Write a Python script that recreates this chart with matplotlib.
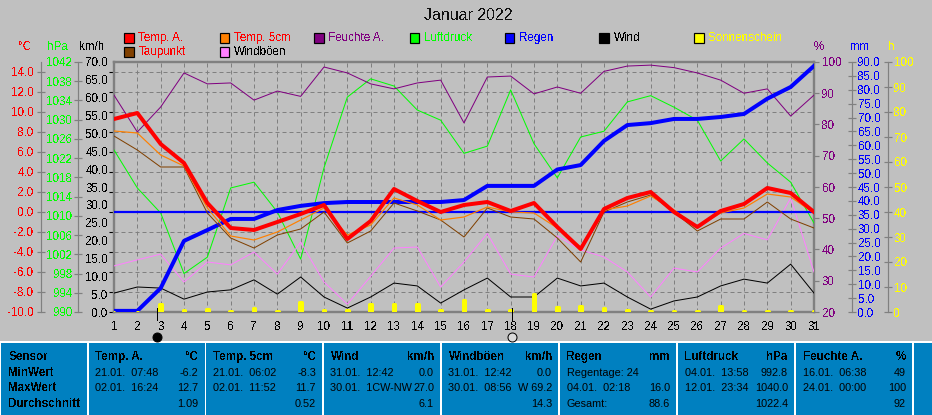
import matplotlib
matplotlib.use('Agg')
import matplotlib.pyplot as plt
from matplotlib.patches import Rectangle

plt.rcParams['font.family'] = ['Liberation Sans', 'DejaVu Sans']
plt.rcParams['text.antialiased'] = False

days = list(range(1, 32))
temp_a = [9.3, 9.9, 6.8, 4.9, 0.9, -1.6, -1.8, -1.0, -0.2, 0.7, -2.7, -0.9, 2.3, 1.1, 0.0, 0.7,
          1.0, 0.1, 0.9, -1.5, -3.7, 0.3, 1.4, 2.0, 0.0, -1.5, 0.1, 0.8, 2.4, 1.9, 0.0]
temp_5cm = [8.1, 7.9, 5.7, 4.6, 0.4, -2.4, -2.8, -2.0, -0.8, 0.4, -2.3, -1.3, 1.4, 0.7, -0.8, -0.5,
            0.5, 0.0, -0.1, -1.6, -3.5, 0.2, 0.6, 1.6, 0.2, -1.5, -0.1, 0.4, 1.8, 1.5, -0.1]
taupunkt = [7.6, 6.2, 4.5, 4.5, -0.1, -2.6, -3.6, -2.3, -1.7, 0.0, -3.1, -1.9, 0.9, 0.1, -0.8, -2.5,
            0.4, -0.5, -0.7, -2.6, -5.0, 0.0, 1.0, 1.7, 0.0, -1.9, -0.7, -0.7, 1.0, -0.7, -1.6]
feuchte = [89.4, 77.6, 85.6, 96.5, 93.0, 93.3, 87.8, 90.7, 89.0, 98.4, 96.5, 93.0, 91.4, 93.3, 94.2, 80.5,
           95.2, 95.5, 89.8, 92.0, 90.0, 97.0, 98.7, 99.0, 98.2, 96.5, 94.2, 90.0, 91.4, 82.7, 89.4]
luftdruck = [1023.7, 1015.8, 1010.6, 998.0, 1001.4, 1015.8, 1017.0, 1010.8, 1001.0, 1020.0, 1034.7, 1038.5,
             1037.0, 1032.0, 1029.9, 1023.0, 1024.5, 1036.2, 1025.0, 1017.9, 1026.4, 1027.6, 1033.7, 1035.0,
             1032.6, 1029.9, 1021.4, 1026.0, 1021.0, 1017.0, 1008.5]
regen = [0.4, 0.4, 8.6, 25.6, 29.5, 33.5, 33.5, 36.7, 38.2, 39.2, 39.6, 39.6, 39.6, 39.6, 39.6, 40.3,
         45.4, 45.4, 45.4, 51.3, 52.9, 61.6, 67.3, 68.0, 69.5, 69.5, 70.2, 71.3, 76.8, 81.0, 88.6]
wind = [5.3, 7.0, 6.7, 3.6, 5.6, 6.2, 9.0, 5.0, 9.8, 4.2, 1.1, 4.2, 8.1, 7.3, 2.5, 6.2,
        9.5, 4.2, 4.2, 9.5, 7.3, 8.1, 4.2, 0.8, 3.1, 4.2, 7.3, 9.2, 8.1, 13.4, 5.3]
windboeen = [12.9, 14.6, 16.2, 8.4, 14.0, 13.2, 16.8, 10.6, 19.6, 8.4, 2.2, 10.0, 17.9, 18.2, 7.0, 14.0,
             22.0, 10.6, 9.8, 21.3, 17.4, 15.4, 11.2, 4.2, 12.3, 11.2, 17.9, 22.0, 20.2, 31.9, 11.2]
sonne = [0.0, 0.0, 3.2, 0.7, 1.4, 0.6, 1.8, 0.6, 3.9, 0.7, 1.0, 3.1, 3.1, 3.1, 0.7, 4.7,
         0.7, 0.7, 7.1, 1.9, 2.3, 1.5, 0.7, 0.5, 0.5, 0.5, 2.3, 0.5, 0.5, 0.5, 0.5]
moon_days = [2.83, 18.06]

legend_row1 = [('Temp. A.', '#FF0000', '#FF0000'), ('Temp. 5cm', '#FF8000', '#FF0000'),
               ('Feuchte A.', '#800080', '#800080'), ('Luftdruck', '#00FF00', '#00FF00'),
               ('Regen', '#0000FF', '#0000FF'), ('Wind', '#000000', '#000000'),
               ('Sonnenschein', '#FFFF00', '#FFFF00')]
legend_row2 = [('Taupunkt', '#804000', '#FF0000'), ('Windböen', '#FF80FF', '#000000')]

table_first = ['Sensor', 'MinWert', 'MaxWert', 'Durchschnitt']
table_cols = [
    ('Temp. A.', '°C', ('21.01.  07:48', '-6.2'), ('02.01.  16:24', '12.7'), ('', '1.09')),
    ('Temp. 5cm', '°C', ('21.01.  06:02', '-8.3'), ('02.01.  11:52', '11.7'), ('', '0.52')),
    ('Wind', 'km/h', ('31.01.  12:42', '0.0'), ('30.01.  1CW-NW', '27.0'), ('', '6.1')),
    ('Windböen', 'km/h', ('31.01.  12:42', '0.0'), ('30.01.  08:56', 'W 69.2'), ('', '14.3')),
    ('Regen', 'mm', ('Regentage: 24', ''), ('04.01.  02:18', '16.0'), ('Gesamt:', '88.6')),
    ('Luftdruck', 'hPa', ('04.01.  13:58', '992.8'), ('12.01.  23:34', '1040.0'), ('', '1022.4')),
    ('Feuchte A.', '%', ('16.01.  06:38', '49'), ('24.01.  00:00', '100'), ('', '92')),
]

BG = '#C0C0C0'
GRAY = '#808080'
FS = 8.4
FS_TAB = 7.8


def px(p):
    return p * 72 / 100


def side_axis(ax, side, offset, color, ticks, fmt, ylim, tick_len=8, pad=3, line=True, direction='inout'):
    "eine zusaetzliche y-Achse neben dem Plot"
    ax.set_ylim(*ylim)
    ax.set_xlim(1, 31)
    for s in ax.spines.values():
        s.set_visible(False)
    sp = ax.spines[side]
    sp.set_visible(line)
    sp.set_position(('outward', px(offset)))
    sp.set_color(GRAY)
    sp.set_linewidth(px(1.2))
    ax.yaxis.set_ticks_position(side)
    ax.yaxis.set_label_position(side)
    ax.set_yticks(ticks)
    ax.set_yticklabels([fmt % t for t in ticks])
    ax.tick_params(axis='y', direction=direction, length=px(tick_len), width=px(1.2), color=GRAY,
                   labelcolor=color, labelsize=FS, pad=px(pad))
    ax.tick_params(axis='x', bottom=False, labelbottom=False, top=False)


fig = plt.figure(figsize=(9.32, 4.15), dpi=100, facecolor=BG)

# Tabelle und Legende in Pixelkoordinaten
tab = fig.add_axes([0, 0, 1, 1], zorder=0)
tab.set_xlim(0, 932)
tab.set_ylim(415, 0)
tab.axis('off')
tab.add_patch(Rectangle((0, 341), 932, 74, facecolor='#FFFFFF', edgecolor='none'))
col_edges = [1, 88.5, 206, 323.5, 441.5, 559.5, 677.5, 795.5, 913.5]
for i in range(len(col_edges) - 1):
    tab.add_patch(Rectangle((col_edges[i], 342.5), col_edges[i + 1] - col_edges[i] - 1.5, 73,
                            facecolor='#0080C0', edgecolor='none'))
tab.add_patch(Rectangle((913.5, 342.5), 19, 73, facecolor='#0080C0', edgecolor='none'))

row_y = [357, 372.5, 388, 404]
for y, t in zip(row_y, table_first):
    tab.text(8.5, y, t, fontsize=FS, fontweight='bold', va='center', ha='left')
col_left = [94.7, 213, 330.5, 448.5, 566.7, 684.7, 802.7]
col_right = [198, 316, 434, 552, 670, 788, 906]
for (name, unit, r1, r2, r3), xl, xr in zip(table_cols, col_left, col_right):
    tab.text(xl, row_y[0], name, fontsize=FS, fontweight='bold', va='center', ha='left')
    tab.text(xr, row_y[0], unit, fontsize=FS, fontweight='bold', va='center', ha='right')
    for y, (a, b) in zip(row_y[1:], (r1, r2, r3)):
        tab.text(xl, y, a, fontsize=FS_TAB, va='center', ha='left', antialiased=True)
        tab.text(xr, y, b, fontsize=FS_TAB, va='center', ha='right', antialiased=True)

tab.text(468, 15, 'Januar 2022', fontsize=11.5, color='#101010', ha='center', va='center')

legend_x = [124, 219.5, 314, 409.5, 504.5, 599, 694]
for row, y in ((legend_row1, 38), (legend_row2, 52)):
    for (name, box, txt), x in zip(row, legend_x):
        tab.add_patch(Rectangle((x, y - 4.5), 9.5, 9.5, facecolor=box, edgecolor='#000000', linewidth=px(1.2)))
        tab.text(x + 14.5, y, name, fontsize=FS, color=txt, va='center', ha='left')

for x, t, c in ((25, '°C', '#FF0000'), (57.5, 'hPa', '#00FF00'), (92, 'km/h', '#000000'),
                (818.5, '%', '#800080'), (859.5, 'mm', '#0000FF'), (891.5, 'h', '#FFFF00')):
    tab.text(x, 47, t, fontsize=FS, color=c, ha='center', va='center')

# Plotbereich
rect = [114 / 932, (415 - 312) / 415, 700 / 932, 250 / 415]
base = fig.add_axes(rect, zorder=1, facecolor=BG)
base.set_xlim(1, 31)
base.set_ylim(-10, 15)
temp_ticks = list(range(-10, 15, 2))
base.set_yticks(temp_ticks)
base.set_yticklabels(['%.1f' % t for t in temp_ticks])
base.set_xticks(days)
base.grid(True, color=GRAY, linewidth=px(1), linestyle=(0, (4, 3)))
base.set_axisbelow(True)
for s in ('left', 'right', 'top', 'bottom'):
    base.spines[s].set_color(GRAY)
    base.spines[s].set_linewidth(px(2.4))
base.tick_params(axis='x', length=0, labelsize=FS, pad=px(9))
base.tick_params(axis='y', left=False, labelleft=False)

# Achsen links und rechts
ax_temp = base.twinx()
side_axis(ax_temp, 'left', 73, '#FF0000', temp_ticks, '%.1f', (-10, 15), pad=3)
ax_druck = base.twinx()
side_axis(ax_druck, 'left', 36.5, '#00FF00', list(range(990, 1043, 4)), '%d', (990, 1042), pad=1)
ax_wind = base.twinx()
side_axis(ax_wind, 'left', 0, '#000000', list(range(0, 71, 5)), '%.1f', (0, 70), tick_len=0, pad=6, line=False)
ax_feuchte = base.twinx()
side_axis(ax_feuchte, 'right', 0, '#800080', list(range(20, 101, 10)), '%d', (20, 100), tick_len=5, pad=3,
          line=False, direction='out')
ax_regen = base.twinx()
side_axis(ax_regen, 'right', 38, '#0000FF', list(range(0, 91, 5)), '%.1f', (0, 90), pad=2)
ax_sonne = base.twinx()
side_axis(ax_sonne, 'right', 74, '#FFFF00', list(range(0, 101, 10)), '%d', (0, 100), pad=2)

ax_sonne.bar(days, sonne, width=0.11, color='#FFFF00', edgecolor='#FFFF00', linewidth=px(3),
             joinstyle='round', zorder=2)
ax_wind.plot(days, windboeen, color='#FF80FF', linewidth=px(1), zorder=3)
ax_wind.plot(days, wind, color='#000000', linewidth=px(1), zorder=4)
ax_feuchte.plot(days, feuchte, color='#800080', linewidth=px(1), zorder=3)
ax_druck.plot(days, luftdruck, color='#00FF00', linewidth=px(1), zorder=3)
ax_regen.plot(days, regen, color='#0000FF', linewidth=px(4), zorder=3)

ax_top = base.twinx()
ax_top.set_ylim(-10, 15)
ax_top.axis('off')
ax_top.axhline(0, color='#0000FF', linewidth=px(2.2), zorder=2)
ax_top.plot(days, taupunkt, color='#804000', linewidth=px(1), zorder=3)
ax_top.plot(days, temp_5cm, color='#FF8000', linewidth=px(1.2), zorder=4)
ax_top.plot(days, temp_a, color='#FF0000', linewidth=px(4), zorder=5)

# Mondphasen unter der Achse
trans = ax_top.get_xaxis_transform()
for d, face in zip(moon_days, ('#000000', '#DADADA')):
    ax_top.plot([d, d], [0.016, -0.032], color='#000000', linewidth=px(1), transform=trans, clip_on=False)
    ax_top.plot([d], [-0.1], marker='o', markersize=px(9), markerfacecolor=face, markeredgecolor='#000000',
                markeredgewidth=px(1), transform=trans, clip_on=False)

fig.savefig('out.png', dpi=100, facecolor=BG)
